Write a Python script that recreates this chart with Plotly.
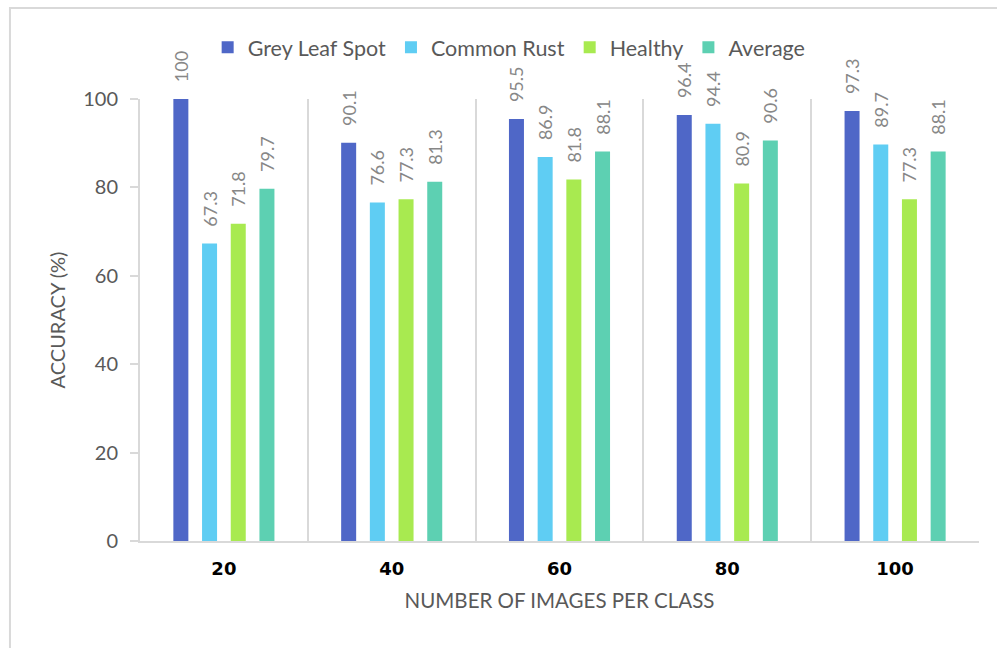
import plotly.graph_objects as go

# Accuracy per class for each training-set size
categories = ["20", "40", "60", "80", "100"]
grey_leaf_spot = [100, 90.1, 95.5, 96.4, 97.3]
common_rust = [67.3, 76.6, 86.9, 94.4, 89.7]
healthy = [71.8, 77.3, 81.8, 80.9, 77.3]
average = [79.7, 81.3, 88.1, 90.6, 88.1]

series = [
    ("Grey Leaf Spot", grey_leaf_spot, "#4F67C7"),
    ("Common Rust", common_rust, "#5FCDF3"),
    ("Healthy", healthy, "#A8EA50"),
    ("Average", average, "#5DD0B2"),
]

BASE_FONT = "Lato, 'Open Sans', sans-serif"
GRID = "#D9D9D9"

fig = go.Figure()
for name, vals, color in series:
    fig.add_trace(go.Bar(
        name=name,
        x=categories,
        y=vals,
        marker=dict(color=color, line=dict(width=0)),
        text=["\u00a0\u00a0\u00a0" + f"{v:g}" for v in vals],
        textposition="outside",
        textangle=-90,
        constraintext="none",
        textfont=dict(family=BASE_FONT, size=18, color="#878787"),
        cliponaxis=False,
    ))

fig.update_layout(
    width=997,
    height=648,
    margin=dict(l=140, r=18, t=99, b=107),
    paper_bgcolor="white",
    plot_bgcolor="white",
    barmode="group",
    bargap=0.316,
    bargroupgap=0.477,
    font=dict(family=BASE_FONT, size=20, color="#595959"),
    legend=dict(
        orientation="h",
        x=0.44, xanchor="center",
        y=1.117, yanchor="middle",
        font=dict(family=BASE_FONT, size=21.5, color="#595959"),
        bgcolor="rgba(0,0,0,0)",
    ),
    showlegend=True,
)

fig.update_xaxes(
    type="category",
    tickson="boundaries",
    showgrid=True,
    gridcolor=GRID,
    gridwidth=2,
    showline=True,
    linecolor=GRID,
    linewidth=2,
    ticks="",
    ticklabelstandoff=10,
    tickfont=dict(family="'DejaVu Sans', Verdana, sans-serif", size=18, color="#000000", weight="bold"),
    title=dict(text="NUMBER OF IMAGES PER CLASS", standoff=16,
               font=dict(family=BASE_FONT, size=20.5, color="#595959")),
    zeroline=False,
)

fig.update_yaxes(
    range=[0, 100],
    tickvals=[0, 20, 40, 60, 80, 100],
    showgrid=False,
    zeroline=False,
    showline=True,
    linecolor=GRID,
    linewidth=2,
    ticks="outside",
    ticklen=8,
    tickwidth=2,
    tickcolor=GRID,
    ticklabelstandoff=8,
    tickfont=dict(family=BASE_FONT, size=20, color="#595959"),
    title=dict(text="ACCURACY (%)", standoff=12,
               font=dict(family=BASE_FONT, size=20, color="#595959")),
)

# Chart-area border
fig.add_shape(
    type="rect", xref="paper", yref="paper",
    x0=-0.155, x1=1.04, y0=-0.27, y1=1.206,
    line=dict(color=GRID, width=2), fillcolor="rgba(0,0,0,0)", layer="below",
)

fig.write_html("out.html")
